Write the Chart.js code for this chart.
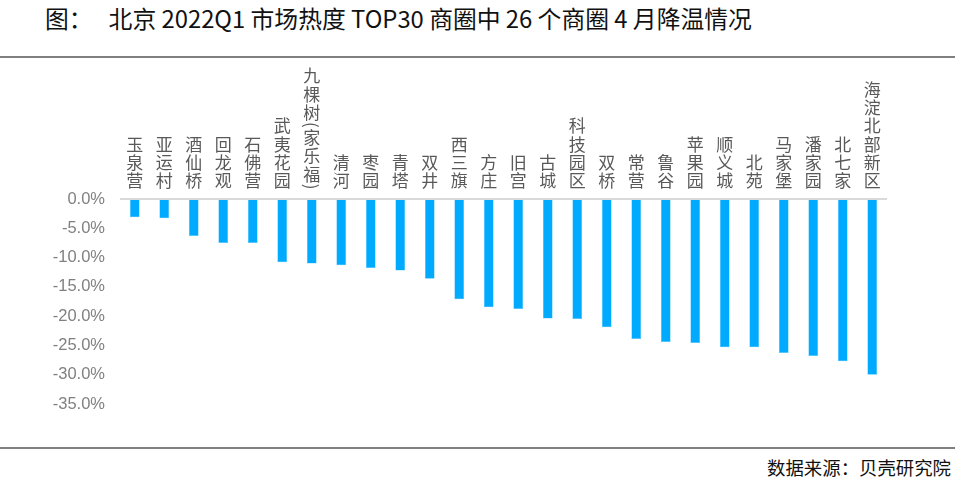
<!DOCTYPE html>
<html>
<head>
<meta charset="utf-8">
<script src="https://cdn.jsdelivr.net/npm/chart.js@4"></script>
<style>
  body { margin: 0; background: #fff; width: 961px; height: 492px; overflow: hidden; position: relative; font-family: "Noto Sans CJK SC", sans-serif; }
  #title { position: absolute; left: 45px; top: 4px; font-size: 23.8px; line-height: 28px; color: #111; white-space: pre; }
  .rule { position: absolute; left: 0; width: 955px; height: 0; border-top: 2px solid #808080; }
  #src { position: absolute; right: 10px; top: 456px; font-size: 18.4px; line-height: 22px; color: #111; }
  #wrap { position: absolute; left: 0; top: 0; width: 961px; height: 492px; }
</style>
</head>
<body>
<div id="title">图：   北京 2022Q1 市场热度 TOP30 商圈中 26 个商圈 4 月降温情况</div>
<div class="rule" style="top:56px"></div>
<div class="rule" style="top:447px"></div>
<div id="src">数据来源：贝壳研究院</div>
<div id="wrap"><canvas id="c" width="961" height="492"></canvas></div>
<script>
// 商圈 and their April drop in heat (%)
const areas = ['玉泉营', '亚运村', '酒仙桥', '回龙观', '石佛营', '武夷花园', '九棵树(家乐福)', '清河', '枣园', '青塔',
  '双井', '西三旗', '方庄', '旧宫', '古城', '科技园区', '双桥', '常营', '鲁谷', '苹果园',
  '顺义城', '北苑', '马家堡', '潘家园', '北七家', '海淀北部新区'];
const drops = [-3.1, -3.3, -6.3, -7.5, -7.5, -10.8, -11.0, -11.3, -11.8, -12.2,
  -13.6, -17.1, -18.5, -18.8, -20.4, -20.5, -21.9, -23.9, -24.4, -24.6,
  -25.3, -25.3, -26.3, -26.8, -27.7, -30.0];
const yMin = -35, yMax = 0, yStep = 5;

// stacked vertical labels above the zero line
const areaLabels = {
  id: 'areaLabels',
  afterDraw(chart) {
    const ctx = chart.ctx, xs = chart.scales.x;
    ctx.save();
    ctx.font = '17px "Noto Sans CJK SC"';
    ctx.fillStyle = '#595959';
    ctx.textAlign = 'center';
    ctx.textBaseline = 'middle';
    areas.forEach((name, i) => {
      const x = xs.getPixelForValue(i);
      let y = 190;
      [...name].reverse().forEach(ch => {
        if (ch === '(' || ch === ')') {
          const w = ctx.measureText(ch).width + 1;
          ctx.save();
          ctx.translate(x, y - w / 2);
          ctx.rotate(Math.PI / 2);
          ctx.fillText(ch, 0, 0);
          ctx.restore();
          y -= w;
        } else {
          ctx.fillText(ch, x, y - 9.2);
          y -= 18.3;
        }
      });
    });
    ctx.restore();
  }
};

new Chart(document.getElementById('c'), {
  type: 'bar',
  data: {
    labels: areas,
    datasets: [{
      data: drops,
      backgroundColor: '#00aaff',
      borderColor: '#4cc4ff',
      borderWidth: 0.5,
      barPercentage: 0.33,
      categoryPercentage: 1
    }]
  },
  options: {
    responsive: false,
    animation: false,
    layout: { padding: { left: 0, right: 74, top: 199, bottom: 88 } },
    plugins: { legend: { display: false }, tooltip: { enabled: false } },
    scales: {
      x: { display: false },
      y: {
        min: yMin,
        max: yMax,
        afterFit: s => { s.width = 120; },
        border: { display: false },
        grid: {
          drawTicks: false,
          lineWidth: 2,
          color: c => c.tick && c.tick.value === 0 ? '#d9d9d9' : 'rgba(0,0,0,0)'
        },
        ticks: {
          stepSize: yStep,
          padding: 15,
          color: '#808080',
          font: { family: '"Liberation Sans", sans-serif', size: 16.5 },
          callback: v => v.toFixed(1) + '%'
        }
      }
    }
  },
  plugins: [areaLabels]
});
</script>
</body>
</html>
